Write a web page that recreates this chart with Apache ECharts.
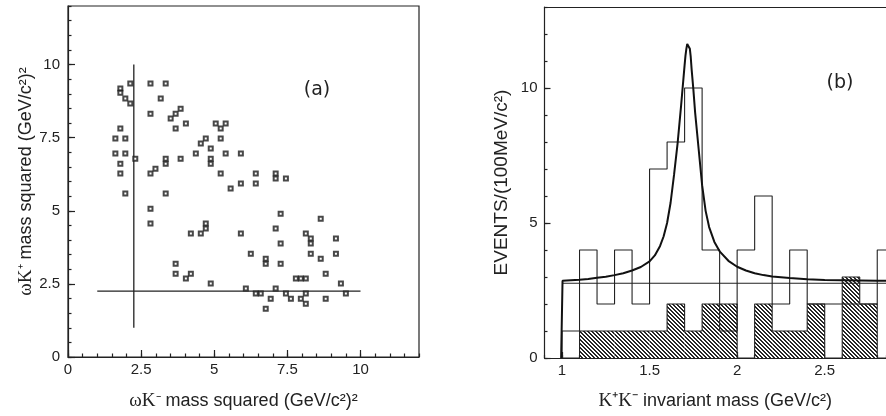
<!DOCTYPE html>
<html>
<head>
<meta charset="utf-8">
<script src="https://cdn.jsdelivr.net/npm/echarts@6/dist/echarts.min.js"></script>
<style>html,body{margin:0;padding:0;background:#fff}#c{width:886px;height:416px}</style>
</head>
<body>
<div id="c"></div>
<script>
// ---------- Panel (a): Dalitz-like scatter ----------
const aX = [2.13,1.79,1.79,1.96,2.13,2.82,3.34,3.17,2.82,3.51,3.68,3.85,3.68,4.03,5.05,5.22,5.39,
  1.79,1.62,1.96,1.62,1.96,1.79,1.79,2.30,1.96,2.82,2.99,3.34,3.34,3.85,3.34,4.54,4.71,4.37,4.88,4.88,4.88,
  5.22,5.39,5.22,5.56,5.91,5.91,6.42,6.42,7.10,7.10,7.45,2.82,2.82,4.20,4.54,4.71,4.71,5.91,7.27,7.10,7.27,
  6.25,6.76,6.76,7.27,8.13,8.30,8.30,8.30,8.64,8.64,9.16,9.16,8.81,9.33,3.68,3.68,4.03,4.20,4.88,6.08,6.42,
  6.59,6.93,6.76,7.10,7.45,7.62,7.79,7.96,8.13,7.96,8.13,8.13,8.81,9.50];
const aY = [9.35,9.18,9.03,8.84,8.67,9.35,9.35,8.84,8.32,8.15,8.32,8.49,7.81,7.98,7.98,7.81,7.98,
  7.81,7.47,7.47,6.96,6.96,6.61,6.27,6.78,5.59,6.27,6.44,6.78,6.61,6.78,5.59,7.30,7.47,6.96,7.13,6.78,6.61,
  7.47,6.96,6.27,5.76,6.96,5.93,6.27,5.93,6.27,6.10,6.10,5.07,4.56,4.22,4.22,4.56,4.39,4.22,4.90,4.39,3.88,
  3.53,3.36,3.19,3.19,4.22,4.05,3.88,3.53,4.73,3.36,4.05,3.53,2.85,2.51,3.19,2.85,2.68,2.85,2.51,2.34,2.17,
  2.17,1.99,1.65,2.34,2.17,1.99,2.68,2.68,2.68,1.99,2.17,1.82,1.99,2.17];
const aCutV = [[2.25, 1], [2.25, 10]];
const aCutH = [[1, 2.25], [10, 2.25]];
const aTickLabels = [0, 2.5, 5, 7.5, 10];

// ---------- Panel (b): K+K- invariant mass ----------
const binStarts = [1.0,1.1,1.2,1.3,1.4,1.5,1.6,1.7,1.8,1.9,2.0,2.1,2.2,2.3,2.4,2.5,2.6,2.7,2.8];
const binWidth = 0.1;
const totalCounts = [1,4,2,4,2,7,8,10,4,1,4,6,2,4,2,2,2,2,4];
const hatchCounts = [0,1,1,1,1,1,2,1,2,2,0,2,1,1,2,0,3,2,0];
const fitCurve = [[0.995,0],[1.003,2.86],[1.05,2.88],[1.10,2.90],[1.15,2.93],[1.20,2.97],[1.25,3.01],
  [1.30,3.07],[1.35,3.14],[1.40,3.24],[1.45,3.37],[1.50,3.58],[1.53,3.80],[1.56,4.15],[1.58,4.50],
  [1.60,5.00],[1.62,5.75],[1.64,6.80],[1.66,7.95],[1.68,9.35],[1.70,10.85],[1.705,11.2],[1.71,11.45],
  [1.715,11.63],[1.72,11.69],[1.725,11.62],[1.73,11.45],[1.735,11.15],[1.74,10.7],[1.75,9.95],[1.76,9.1],
  [1.78,7.75],[1.80,6.4],[1.82,5.45],[1.84,4.85],[1.87,4.3],[1.90,3.95],[1.95,3.60],[2.00,3.38],[2.05,3.24],
  [2.10,3.14],[2.15,3.07],[2.20,3.02],[2.30,2.96],[2.40,2.92],[2.50,2.89],[2.60,2.88],[2.70,2.87],
  [2.80,2.86],[2.85,2.86]];
const bgLine = [[1.0, 2.77], [2.85, 2.77]];
const bTickLabelsX = [1, 1.5, 2, 2.5];
const bTickLabelsY = [0, 5, 10];

// ---------- helpers ----------
function outline(counts) {
  const pts = [[binStarts[0], 0]];
  counts.forEach((v, i) => { pts.push([binStarts[i], v]); pts.push([binStarts[i] + binWidth, v]); });
  pts.push([binStarts[binStarts.length - 1] + binWidth, 0]);
  return pts;
}
function hatchPattern() {
  const c = document.createElement('canvas');
  c.width = 4; c.height = 4;
  const ctx = c.getContext('2d');
  ctx.fillStyle = '#ffffff'; ctx.fillRect(0, 0, 4, 4);
  ctx.fillStyle = '#262626';
  for (let i = 0; i < 4; i++) { ctx.fillRect(i, i, 1, 1); ctx.fillRect((i + 1) % 4, i, 1, 1); }
  return c;
}
const pat = hatchPattern();
const INK = '#222';
const lineStyle = { color: INK, width: 1.2 };
const labelFont = { color: INK, fontSize: 15, fontFamily: 'Liberation Sans, Arial, sans-serif' };
const fmt = v => String(Math.round(v * 10) / 10);
const serif = 'Liberation Serif, serif';
const sans = 'Liberation Sans, Arial, sans-serif';

const chart = echarts.init(document.getElementById('c'), null, { renderer: 'canvas' });
chart.setOption({
  animation: false,
  backgroundColor: '#fff',
  grid: [
    { left: 68, top: 6, width: 351, height: 352, show: true, borderColor: INK, borderWidth: 1.2, backgroundColor: 'transparent' },
    { left: 544.5, top: 7, right: 0, height: 351 }
  ],
  xAxis: [
    { gridIndex: 0, type: 'value', min: 0, max: 12, interval: 2.5, position: 'bottom',
      axisLine: { show: true, lineStyle }, splitLine: { show: false },
      axisTick: { show: true, inside: true, length: 7, lineStyle },
      axisLabel: { ...labelFont, margin: 5, showMaxLabel: false, formatter: fmt },
      name: '{g|ωK}{gs|⁻}{n| mass squared (GeV/c²)²}', nameLocation: 'middle', nameGap: 35,
      nameTextStyle: { rich: {
        g: { fontFamily: serif, fontSize: 19, color: INK },
        gs: { fontFamily: serif, fontSize: 16, color: INK },
        n: { fontFamily: sans, fontSize: 18, color: INK } } } },
    { gridIndex: 0, type: 'value', min: 0, max: 12, interval: 0.5, position: 'bottom',
      axisLine: { show: false }, splitLine: { show: false },
      axisTick: { show: true, inside: true, length: 3.5, lineStyle }, axisLabel: { show: false } },
    { gridIndex: 1, type: 'value', min: 0.9, max: 2.85, interval: 0.1, position: 'bottom',
      axisLine: { show: true, lineStyle }, splitLine: { show: false },
      axisTick: { show: true, inside: true, length: 3, lineStyle }, axisLabel: { show: false } },
    { gridIndex: 1, type: 'value', min: 0.9, max: 2.85, position: 'bottom',
      axisLine: { show: false }, splitLine: { show: false },
      axisTick: { show: true, inside: true, length: 6, lineStyle, customValues: bTickLabelsX },
      axisLabel: { ...labelFont, margin: 5, customValues: bTickLabelsX, formatter: fmt },
      name: '{g|K⁺K⁻}{n| invariant mass (GeV/c²)}', nameLocation: 'middle', nameGap: 34,
      nameTextStyle: { rich: {
        g: { fontFamily: serif, fontSize: 19, color: INK },
        n: { fontFamily: sans, fontSize: 18, color: INK } } } },
    { gridIndex: 1, type: 'value', min: 0.9, max: 2.85, position: 'top',
      axisLine: { show: true, lineStyle }, splitLine: { show: false },
      axisTick: { show: false }, axisLabel: { show: false } }
  ],
  yAxis: [
    { gridIndex: 0, type: 'value', min: 0, max: 12, interval: 2.5, position: 'left',
      axisLine: { show: true, lineStyle }, splitLine: { show: false },
      axisTick: { show: true, inside: true, length: 7, lineStyle },
      axisLabel: { ...labelFont, margin: 8, showMaxLabel: false, formatter: fmt },
      name: '{g|ωK}{gs|⁺}{n| mass squared (GeV/c²)²}', nameLocation: 'middle', nameGap: 27, nameRotate: 90,
      nameTextStyle: { rich: {
        g: { fontFamily: serif, fontSize: 19, color: INK },
        gs: { fontFamily: serif, fontSize: 16, color: INK },
        n: { fontFamily: sans, fontSize: 18, color: INK } } } },
    { gridIndex: 0, type: 'value', min: 0, max: 12, interval: 0.5, position: 'left',
      axisLine: { show: false }, splitLine: { show: false },
      axisTick: { show: true, inside: true, length: 3.5, lineStyle }, axisLabel: { show: false } },
    { gridIndex: 1, type: 'value', min: 0, max: 13, interval: 5, position: 'left',
      axisLine: { show: true, lineStyle }, splitLine: { show: false },
      axisTick: { show: true, inside: true, length: 6, lineStyle },
      axisLabel: { ...labelFont, margin: 7, showMaxLabel: false, formatter: fmt },
      name: 'EVENTS/(100MeV/c²)', nameLocation: 'middle', nameGap: 33, nameRotate: 90,
      nameTextStyle: { fontFamily: sans, fontSize: 19, color: INK } },
    { gridIndex: 1, type: 'value', min: 0, max: 13, interval: 1, position: 'left',
      axisLine: { show: false }, splitLine: { show: false },
      axisTick: { show: true, inside: true, length: 3, lineStyle }, axisLabel: { show: false } }
  ],
  series: [
    { type: 'scatter', xAxisIndex: 0, yAxisIndex: 0, symbol: 'rect', symbolSize: 4,
      itemStyle: { color: '#fff', borderColor: '#1a1a1a', borderWidth: 2 },
      data: aX.map((x, i) => [x, aY[i]]), z: 5 },
    { type: 'line', xAxisIndex: 0, yAxisIndex: 0, data: aCutV, symbol: 'none', lineStyle: { color: INK, width: 1.3 } },
    { type: 'line', xAxisIndex: 0, yAxisIndex: 0, data: aCutH, symbol: 'none', lineStyle: { color: INK, width: 1.3 } },
    { type: 'custom', xAxisIndex: 2, yAxisIndex: 2, z: 2,
      data: binStarts.map((b, i) => [b, b + binWidth, hatchCounts[i]]),
      renderItem: (params, api) => {
        const v = api.value(2);
        if (!v) return null;
        const p0 = api.coord([api.value(0), v]);
        const p1 = api.coord([api.value(1), 0]);
        return { type: 'rect', shape: { x: p0[0], y: p0[1], width: p1[0] - p0[0], height: p1[1] - p0[1] },
          style: { fill: { image: pat, repeat: 'repeat' }, stroke: null } };
      } },
    { type: 'line', xAxisIndex: 2, yAxisIndex: 2, data: outline(hatchCounts), symbol: 'none', z: 3,
      lineStyle: { color: INK, width: 1.1 } },
    { type: 'line', xAxisIndex: 2, yAxisIndex: 2, data: outline(totalCounts), symbol: 'none', z: 4,
      lineStyle: { color: INK, width: 1.1 } },
    { type: 'line', xAxisIndex: 2, yAxisIndex: 2, data: bgLine, symbol: 'none', z: 4,
      lineStyle: { color: INK, width: 1.1 } },
    { type: 'line', xAxisIndex: 2, yAxisIndex: 2, data: fitCurve, symbol: 'none', z: 6,
      lineStyle: { color: '#111', width: 2 } }
  ],
  graphic: [
    { type: 'text', x: 317, y: 90, style: { text: '(a)', fontSize: 19, fontFamily: 'DejaVu Sans, sans-serif', fill: INK, align: 'center', verticalAlign: 'middle' } },
    { type: 'text', x: 840, y: 83, style: { text: '(b)', fontSize: 19, fontFamily: 'DejaVu Sans, sans-serif', fill: INK, align: 'center', verticalAlign: 'middle' } }
  ]
});
</script>
</body>
</html>
